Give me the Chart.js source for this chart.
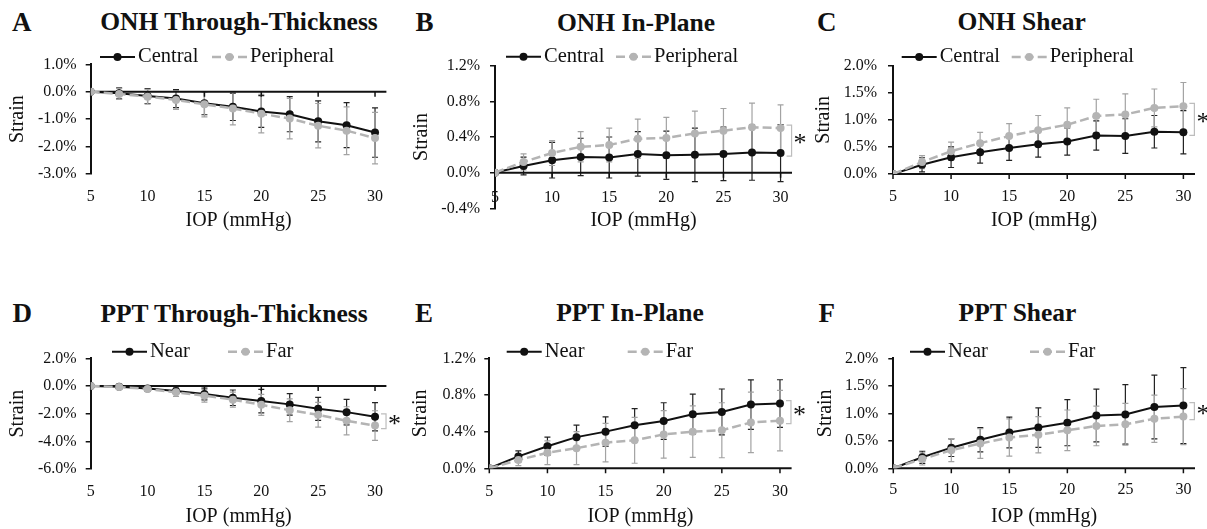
<!DOCTYPE html>
<html>
<head>
<meta charset="utf-8">
<script src="https://cdn.jsdelivr.net/npm/chart.js@4.4.1/dist/chart.umd.min.js"></script>
<style>
  body{margin:0;background:#fff;width:1207px;height:529px;position:relative;overflow:hidden;
       font-family:'Liberation Serif','Times New Roman',serif;color:#111}
  canvas{position:absolute}
  .lab{position:absolute;font-weight:bold;line-height:1;white-space:nowrap;transform:translateX(-50%)}
  .letter{font-size:27px}
  .ttl{font-size:25.5px}
</style>
</head>
<body>
<script>
// ---- data (strain in %, mean and SD) ----
const iop=[5,7.5,10,12.5,15,17.5,20,22.5,25,27.5,30];

const onhLabels=['Central','Peripheral'];
const pptLabels=['Near','Far'];

// A. ONH through-thickness
const onhThruCentral=[0,-0.06,-0.16,-0.25,-0.42,-0.55,-0.72,-0.82,-1.08,-1.22,-1.49];
const onhThruCentralSd=[0,0.2,0.27,0.33,0.42,0.5,0.58,0.64,0.75,0.82,0.9];
const onhThruPeriph=[0,-0.08,-0.18,-0.3,-0.46,-0.61,-0.8,-0.98,-1.24,-1.42,-1.69];
const onhThruPeriphSd=[0,0.2,0.27,0.34,0.46,0.6,0.7,0.74,0.81,0.87,0.94];

// B. ONH in-plane
const onhInCentral=[0,0.075,0.14,0.176,0.17,0.21,0.195,0.2,0.21,0.225,0.22];
const onhInCentralSd=[0,0.1,0.2,0.21,0.23,0.25,0.27,0.3,0.3,0.31,0.32];
const onhInPeriph=[0,0.12,0.22,0.29,0.31,0.38,0.39,0.44,0.47,0.51,0.5];
const onhInPeriphSd=[0,0.09,0.14,0.17,0.19,0.22,0.23,0.25,0.25,0.27,0.26];

// C. ONH shear
const onhShCentral=[0,0.17,0.31,0.4,0.48,0.55,0.6,0.71,0.7,0.78,0.77];
const onhShCentralSd=[0,0.13,0.19,0.2,0.23,0.24,0.25,0.27,0.32,0.3,0.4];
const onhShPeriph=[0,0.22,0.42,0.57,0.7,0.81,0.91,1.07,1.1,1.22,1.25];
const onhShPeriphSd=[0,0.12,0.17,0.2,0.23,0.27,0.31,0.31,0.38,0.35,0.44];

// D. PPT through-thickness
const pptThruNear=[0,-0.05,-0.19,-0.36,-0.58,-0.85,-1.09,-1.33,-1.65,-1.89,-2.23];
const pptThruNearSd=[0,0.05,0.12,0.2,0.43,0.56,0.85,0.77,0.83,0.92,1.02];
const pptThruFar=[0,-0.07,-0.22,-0.46,-0.7,-0.99,-1.36,-1.75,-2.08,-2.52,-2.86];
const pptThruFarSd=[0,0.05,0.15,0.3,0.46,0.54,0.76,0.82,0.9,1.02,1.07];

// E. PPT in-plane
const pptInNear=[0,0.13,0.24,0.34,0.4,0.47,0.515,0.59,0.615,0.695,0.706];
const pptInNearSd=[0,0.06,0.1,0.13,0.16,0.18,0.2,0.22,0.25,0.27,0.26];
const pptInFar=[0,0.09,0.17,0.22,0.28,0.305,0.37,0.4,0.415,0.5,0.52];
const pptInFarSd=[0,0.06,0.13,0.18,0.21,0.25,0.26,0.28,0.3,0.33,0.33];

// F. PPT shear
const pptShNear=[0,0.2,0.375,0.52,0.65,0.74,0.83,0.96,0.98,1.115,1.14];
const pptShNearSd=[0,0.11,0.16,0.22,0.28,0.36,0.42,0.48,0.54,0.58,0.69];
const pptShFar=[0,0.17,0.33,0.45,0.56,0.61,0.69,0.77,0.8,0.9,0.94];
const pptShFarSd=[0,0.11,0.21,0.27,0.34,0.33,0.37,0.36,0.38,0.43,0.51];

const panelLetters=['A','B','C','D','E','F'];
const panelTitles=['ONH Through-Thickness','ONH In-Plane','ONH Shear',
                   'PPT Through-Thickness','PPT In-Plane','PPT Shear'];
const xTitle='IOP (mmHg)';
const yTitle='Strain';

// ---- plugins ----
Chart.defaults.font.family="'Liberation Serif','Times New Roman',serif";
Chart.defaults.color='#111';

const errorBars={
  id:'errorBars',
  beforeDatasetsDraw(chart){
    const {ctx}=chart, y=chart.scales.y;
    chart.data.datasets.forEach((ds,di)=>{
      const meta=chart.getDatasetMeta(di);
      ctx.save();
      ctx.strokeStyle=ds.errColor; ctx.lineWidth=1.2;
      meta.data.forEach((pt,i)=>{
        const sd=ds.sd[i]; if(!sd) return;
        const v=ds.data[i].y;
        const y1=y.getPixelForValue(v+sd), y2=y.getPixelForValue(v-sd);
        ctx.beginPath();
        ctx.moveTo(pt.x,y1); ctx.lineTo(pt.x,y2);
        ctx.moveTo(pt.x-3,y1); ctx.lineTo(pt.x+3,y1);
        ctx.moveTo(pt.x-3,y2); ctx.lineTo(pt.x+3,y2);
        ctx.stroke();
      });
      ctx.restore();
    });
  }
};

// horizontal axis line drawn at strain = 0, with tick marks
const zeroAxis={
  id:'zeroAxis',
  beforeDatasetsDraw(chart){
    const {ctx,chartArea:a,scales:{x,y}}=chart;
    const y0=y.getPixelForValue(0);
    ctx.save();
    ctx.strokeStyle='#111'; ctx.lineWidth=2;
    ctx.beginPath(); ctx.moveTo(a.left,y0); ctx.lineTo(a.right,y0); ctx.stroke();
    ctx.lineWidth=1.5; ctx.beginPath();
    x.ticks.forEach(t=>{const px=x.getPixelForValue(t.value); ctx.moveTo(px,y0); ctx.lineTo(px,y0+5);});
    ctx.stroke();
    ctx.restore();
  }
};

const lineLegend={
  id:'lineLegend',
  afterDraw(chart,args,o){
    const {ctx,chartArea:a}=chart;
    let x=a.left+o.dx; const y=o.y;
    ctx.save();
    ctx.font="20.5px 'Liberation Serif'"; ctx.textBaseline='middle';
    chart.data.datasets.forEach(ds=>{
      ctx.strokeStyle=ds.borderColor; ctx.lineWidth=ds.borderWidth; ctx.setLineDash(ds.borderDash);
      ctx.beginPath(); ctx.moveTo(x,y); ctx.lineTo(x+35,y); ctx.stroke();
      ctx.setLineDash([]);
      ctx.fillStyle=ds.pointBackgroundColor;
      ctx.beginPath(); ctx.arc(x+17.5,y,4,0,Math.PI*2); ctx.fill();
      ctx.fillStyle='#111'; ctx.fillText(ds.label,x+38,y);
      x+=o.gap;
    });
    ctx.restore();
  }
};

// significance bracket between last points of the two series
const sigBracket={
  id:'sigBracket',
  afterDatasetsDraw(chart,args,o){
    if(!o.show) return;
    const {ctx,scales:{x,y}}=chart;
    const ds=chart.data.datasets, n=ds[0].data.length-1;
    const px=x.getPixelForValue(ds[0].data[n].x)+11;
    const ya=y.getPixelForValue(ds[0].data[n].y), yb=y.getPixelForValue(ds[1].data[n].y);
    const top=Math.min(ya,yb)-3, bot=Math.max(ya,yb)+3;
    ctx.save();
    ctx.strokeStyle='#bdbdbd'; ctx.lineWidth=1.2;
    ctx.beginPath(); ctx.moveTo(px-5,top); ctx.lineTo(px,top); ctx.lineTo(px,bot); ctx.lineTo(px-5,bot); ctx.stroke();
    ctx.fillStyle='#111'; ctx.font="26px 'Liberation Serif'"; ctx.textAlign='center'; ctx.textBaseline='middle';
    ctx.fillText('*',px+8.5,(top+bot)/2+4);
    ctx.restore();
  }
};

// ---- panel layout ----
const panels=[
  {left:0,  top:0,  w:400,h:235,L:90.7,R:386.4,T:64.3,B:174,  ymin:-3,  ymax:1,  step:1,  yPad:9, yTitlePad:5.5,xPad:13, mirror:false,xTitlePad:2,  leg:{dx:9.3, y:57,  gap:112},sig:false,
   labels:onhLabels,a:onhThruCentral,aSd:onhThruCentralSd,b:onhThruPeriph,bSd:onhThruPeriphSd,tx:239,  ty:21.7,lx:21.7, ly:22},
  {left:400,top:0,  w:412,h:235,L:95,  R:392,  T:65.7,B:208.3,ymin:-0.4,ymax:1.2,step:0.4,yPad:10,yTitlePad:10, xPad:1,  mirror:true, xTitlePad:2,  leg:{dx:11,  y:56.7,gap:110},sig:true,
   labels:onhLabels,a:onhInCentral,aSd:onhInCentralSd,b:onhInPeriph,bSd:onhInPeriphSd,tx:636,  ty:22.5,lx:424.5,ly:22},
  {left:800,top:0,  w:407,h:235,L:93,  R:395,  T:65.7,B:174,  ymin:0,   ymax:2,  step:0.5,yPad:11,yTitlePad:12, xPad:13, mirror:false,xTitlePad:2,  leg:{dx:8.7, y:57,  gap:110},sig:true,
   labels:onhLabels,a:onhShCentral,aSd:onhShCentralSd,b:onhShPeriph,bSd:onhShPeriphSd,tx:1021.7,ty:22,  lx:826.7,ly:22},
  {left:0,  top:294,w:400,h:235,L:90.7,R:386.4,T:64.3,B:175,  ymin:-6,  ymax:2,  step:2,  yPad:9, yTitlePad:5.5,xPad:13, mirror:false,xTitlePad:0.5,leg:{dx:21.3,y:57.7,gap:116},sig:true,
   labels:pptLabels,a:pptThruNear,aSd:pptThruNearSd,b:pptThruFar,bSd:pptThruFarSd,tx:234,  ty:313.3,lx:22.2, ly:313.3},
  {left:400,top:294,w:412,h:235,L:89.3,R:391.6,T:64.3,B:174.3,ymin:0,   ymax:1.2,step:0.4,yPad:8.5,yTitlePad:9, xPad:13.5,mirror:false,xTitlePad:0.5,leg:{dx:17.4,y:57.7,gap:121},sig:true,
   labels:pptLabels,a:pptInNear,aSd:pptInNearSd,b:pptInFar,bSd:pptInFarSd,tx:630,  ty:312.8,lx:424,  ly:313},
  {left:800,top:294,w:407,h:235,L:93.3,R:395,  T:64.3,B:174.3,ymin:0,   ymax:2,  step:0.5,yPad:10,yTitlePad:14, xPad:12, mirror:false,xTitlePad:0.5,leg:{dx:16.7,y:57.7,gap:120},sig:true,
   labels:pptLabels,a:pptShNear,aSd:pptShNearSd,b:pptShFar,bSd:pptShFarSd,tx:1017.5,ty:313,lx:826.7,ly:313}
];

function series(label,vals,sd,color,dash,order){
  return {label,data:iop.map((x,i)=>({x,y:vals[i]})),sd,
    borderColor:color,backgroundColor:color,borderWidth:dash.length?2.5:2,borderDash:dash,
    pointRadius:4,pointHoverRadius:4,pointBorderWidth:0,pointBackgroundColor:color,
    errColor:dash.length?'#a3a3a3':'#222',tension:0,order};
}

panels.forEach((p,k)=>{
  const letter=document.createElement('div');
  letter.className='lab letter'; letter.textContent=panelLetters[k];
  letter.style.left=p.lx+'px'; letter.style.top=(p.ly-13.5)+'px';
  document.body.appendChild(letter);
  const ttl=document.createElement('div');
  ttl.className='lab ttl'; ttl.textContent=panelTitles[k];
  ttl.style.left=p.tx+'px'; ttl.style.top=(p.ty-12.75)+'px';
  document.body.appendChild(ttl);

  const cv=document.createElement('canvas');
  cv.width=p.w; cv.height=p.h; cv.style.left=p.left+'px'; cv.style.top=p.top+'px';
  document.body.appendChild(cv);

  new Chart(cv,{
    type:'line',
    data:{datasets:[
      series(p.labels[0],p.a,p.aSd,'#111',[],1),
      series(p.labels[1],p.b,p.bSd,'#b4b4b4',[9,4],0)
    ]},
    options:{
      responsive:false,animation:false,
      layout:{padding:{left:0,right:p.w-p.R,top:p.T,bottom:0}},
      plugins:{
        legend:{display:false},tooltip:{enabled:false},
        lineLegend:p.leg,sigBracket:{show:p.sig}
      },
      scales:{
        x:{type:'linear',min:5,max:31,
          border:{display:false},grid:{display:false,drawTicks:false},
          ticks:{stepSize:5,includeBounds:false,mirror:p.mirror,padding:p.xPad,font:{size:16}},
          title:{display:true,text:xTitle,font:{size:20},padding:{top:0,bottom:p.xTitlePad}},
          afterFit:s=>{s.height=p.h-p.B;}},
        y:{min:p.ymin,max:p.ymax,
          border:{display:true,color:'#111',width:2},
          grid:{drawOnChartArea:false,drawTicks:true,tickLength:5,color:'#111',lineWidth:1.5},
          ticks:{stepSize:p.step,padding:p.yPad,font:{size:16},
                 callback:v=>(Math.abs(v)<1e-9?0:v).toFixed(1)+'%'},
          title:{display:true,text:yTitle,font:{size:20},padding:{top:p.yTitlePad,bottom:0}},
          afterFit:s=>{s.width=p.L;}}
      }
    },
    plugins:[errorBars,zeroAxis,lineLegend,sigBracket]
  });
});
</script>
</body>
</html>
